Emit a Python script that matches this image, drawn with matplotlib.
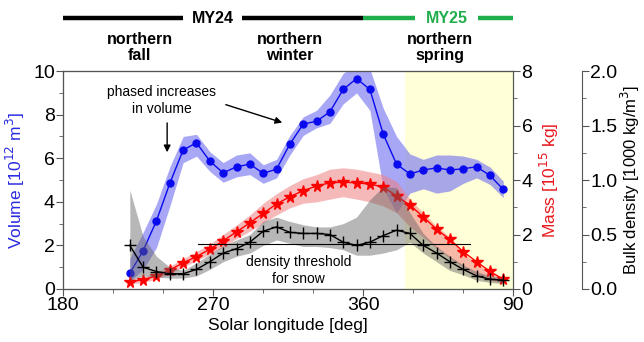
import numpy as np
import matplotlib
matplotlib.use("Agg")
import matplotlib.pyplot as plt
from matplotlib.ticker import MultipleLocator, FixedLocator
import matplotlib.transforms as mtransforms

plt.rcParams['font.family'] = ['Liberation Sans', 'DejaVu Sans']

# solar longitude, continued past 360 into the next Mars year
ls = [220, 228, 236, 244, 252, 260, 268, 276, 284, 292, 300, 308, 316, 324, 332,
      340, 348, 356, 364, 372, 380, 388, 396, 404, 412, 420, 428, 436, 444]

volume = [0.72, 1.76, 3.13, 4.85, 6.38, 6.71, 5.87, 5.33, 5.61, 5.73, 5.31, 5.5, 6.65, 7.57, 7.7,
          8.13, 9.16, 9.66, 9.16, 7.11, 5.73, 5.28, 5.46, 5.56, 5.46, 5.52, 5.61, 5.21, 4.57]
volume_lo = [0.35, 0.9, 1.9, 3.8, 5.8, 6.1, 5.4, 4.9, 5.15, 5.25, 4.85, 5.1, 6.15, 7.05, 7.4,
             7.6, 8.5, 9.0, 8.2, 4.6, 3.5, 4.4, 4.6, 4.4, 4.5, 4.85, 5.1, 4.8, 4.2]
volume_hi = [1.4, 2.6, 3.9, 5.6, 7.0, 7.1, 6.3, 5.8, 6.15, 6.25, 5.7, 5.95, 7.05, 7.9, 8.2,
             8.9, 9.9, 10.3, 10.1, 8.3, 7.0, 6.2, 5.95, 6.15, 6.15, 6.1, 5.95, 5.6, 4.95]

mass = [0.27, 0.34, 0.48, 0.70, 0.96, 1.19, 1.46, 1.77, 2.1, 2.43, 2.78, 3.12, 3.39, 3.61, 3.78,
        3.9, 3.92, 3.9, 3.85, 3.75, 3.41, 3.08, 2.65, 2.19, 1.82, 1.37, 1.0, 0.65, 0.35]
mass_lo = [0.18, 0.24, 0.36, 0.56, 0.8, 1.04, 1.28, 1.55, 1.85, 2.12, 2.42, 2.72, 2.98, 3.15, 3.2,
           3.3, 3.39, 3.3, 3.2, 3.05, 2.8, 2.29, 1.9, 1.5, 1.12, 0.8, 0.5, 0.33, 0.2]
mass_hi = [0.36, 0.44, 0.6, 0.84, 1.12, 1.37, 1.65, 2.0, 2.35, 2.72, 3.15, 3.5, 3.8, 4.05, 4.2,
           4.4, 4.45, 4.4, 4.3, 4.2, 3.95, 3.3, 2.8, 2.3, 1.9, 1.3, 0.95, 0.6, 0.45]

density = [0.40, 0.20, 0.16, 0.14, 0.14, 0.18, 0.25, 0.33, 0.37, 0.43, 0.53, 0.57, 0.52, 0.51, 0.51,
           0.50, 0.43, 0.40, 0.43, 0.49, 0.54, 0.51, 0.40, 0.33, 0.25, 0.18, 0.12, 0.09, 0.08]
density_lo = [0.08, 0.12, 0.11, 0.10, 0.10, 0.12, 0.18, 0.25, 0.30, 0.33, 0.40, 0.45, 0.42, 0.39, 0.39,
              0.38, 0.36, 0.31, 0.31, 0.33, 0.36, 0.43, 0.33, 0.25, 0.17, 0.13, 0.08, 0.06, 0.05]
density_hi = [0.91, 0.48, 0.30, 0.20, 0.17, 0.24, 0.32, 0.40, 0.45, 0.50, 0.62, 0.66, 0.62, 0.59, 0.57,
              0.57, 0.60, 0.66, 0.82, 0.94, 0.93, 0.70, 0.51, 0.39, 0.30, 0.22, 0.16, 0.12, 0.10]

snow_threshold = 0.41
threshold_ls = [261, 424]
spring_ls = [385, 450]

xticks = [180, 270, 360, 450]
xticklabels = ['180', '270', '360', '90']

fig = plt.figure(figsize=(6.44, 3.42), dpi=100)
ax = fig.add_axes([0.098, 0.155, 0.699, 0.637])
ax2 = ax.twinx()
ax3 = ax.twinx()
ax3.spines['right'].set_position(('axes', 1.153))

spine_col = '#555555'
for a in (ax, ax2, ax3):
    for s in a.spines.values():
        s.set_color(spine_col)
    a.tick_params(which='both', direction='out', colors=spine_col, labelcolor='black', labelsize=14,
                  pad=1)
    a.tick_params(which='major', length=5)
    a.tick_params(which='minor', length=3)

# northern spring shading
ax.axvspan(spring_ls[0], spring_ls[1], color='#ffffd8', zorder=0, lw=0)

# volume
ax.fill_between(ls, volume_lo, volume_hi, color='#6c6cf0', alpha=0.6, lw=0)
ax.plot(ls, volume, '-o', color='#0a0aee', lw=1, ms=5)
ax.set_xlim(180, 450)
ax.set_ylim(0, 10)
ax.yaxis.set_major_locator(MultipleLocator(2))
ax.yaxis.set_minor_locator(MultipleLocator(1))
ax.xaxis.set_major_locator(FixedLocator(xticks))
ax.set_xticklabels(xticklabels)
ax.xaxis.set_minor_locator(MultipleLocator(30))
ax.set_xlabel('Solar longitude [deg]', fontsize=12.5, labelpad=3)
ax.set_ylabel('Volume [10$^{12}$ m$^3$]', color='#2a2ae0', fontsize=12.5, labelpad=4)

# mass
ax2.fill_between(ls, mass_lo, mass_hi, color='#f08080', alpha=0.55, lw=0)
ax2.plot(ls, mass, '-*', color='red', lw=1, ms=8.5)
ax2.set_ylim(0, 8)
ax2.yaxis.set_major_locator(MultipleLocator(2))
ax2.yaxis.set_minor_locator(MultipleLocator(1))
ax2.set_ylabel('Mass [10$^{15}$ kg]', color='#e8191e', fontsize=12.5, labelpad=4)

# density
ax3.fill_between(ls, density_lo, density_hi, color='#606060', alpha=0.45, lw=0)
ax3.plot(ls, density, '-+', color='black', lw=1, ms=9, mew=1)
ax3.plot(threshold_ls, [snow_threshold, snow_threshold], color='black', lw=0.8)
ax3.text(321, 0.17, 'density threshold\nfor snow', ha='center', va='center', fontsize=10,
         linespacing=1.25)
ax3.set_ylim(0, 2)
ax3.yaxis.set_major_locator(MultipleLocator(0.5))
ax3.yaxis.set_minor_locator(MultipleLocator(0.25))
ax3.set_ylabel('Bulk density [1000 kg/m$^3$]', fontsize=12, labelpad=1)

# annotations
ax3.text(239, 1.73, 'phased increases\nin volume', ha='center', va='center', fontsize=10,
         linespacing=1.25)
ax3.annotate('', xy=(242.4, 1.23), xytext=(242.4, 1.55),
             arrowprops=dict(arrowstyle='-|>', color='black', lw=1, mutation_scale=10))
ax3.annotate('', xy=(313, 1.52), xytext=(276, 1.70),
             arrowprops=dict(arrowstyle='-|>', color='black', lw=1, mutation_scale=10))

# Mars year bars and seasons above the plot
trans = mtransforms.blended_transform_factory(ax.transData, fig.transFigure)
green = '#1fae4b'
bars = [(180, 252, 'black'), (287, 360, 'black'), (360, 391, green), (429, 450, green)]
for x0, x1, c in bars:
    ax.plot([x0, x1], [0.947, 0.947], color=c, lw=3.2, transform=trans, clip_on=False,
            solid_capstyle='butt')
ax.text(270, 0.947, 'MY24', transform=trans, ha='center', va='center', fontsize=11.5,
        fontweight='bold', color='black')
ax.text(410, 0.947, 'MY25', transform=trans, ha='center', va='center', fontsize=11.5,
        fontweight='bold', color=green)
for x, s in [(226, 'northern\nfall'), (316, 'northern\nwinter'), (406, 'northern\nspring')]:
    ax.text(x, 0.862, s, transform=trans, ha='center', va='center', fontsize=11.5,
            fontweight='bold', linespacing=1.1)

fig.savefig('out.png', dpi=100)
